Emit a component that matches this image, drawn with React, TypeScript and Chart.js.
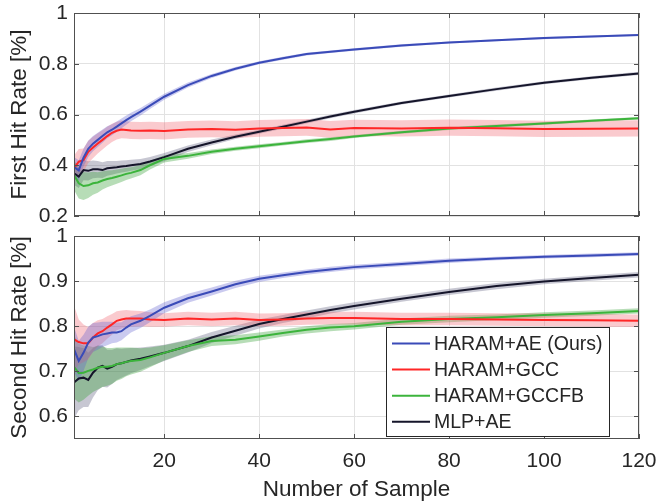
import React, { useEffect, useRef } from 'react';
import { Chart, registerables } from 'chart.js';

Chart.register(...registerables);

// ---- data ----
const sampleIndex = [1, 2, 3, 4, 5, 6, 7, 8, 9, 10, 11, 12, 13, 15, 17, 20, 25, 30, 35, 40, 45, 50, 55, 60, 70, 80, 90, 100, 110, 120];

const seriesNames = ['HARAM+AE (Ours)', 'HARAM+GCC', 'HARAM+GCCFB', 'MLP+AE'];

const xTickValues = [20, 40, 60, 80, 100, 120];
const firstTickValues = [0.2, 0.4, 0.6, 0.8, 1];
const secondTickValues = [0.6, 0.7, 0.8, 0.9, 1];

// First hit rate (mean)
const firstAE = [0.393, 0.38, 0.43, 0.465, 0.485, 0.5, 0.515, 0.53, 0.54, 0.552, 0.565, 0.578, 0.59, 0.611, 0.635, 0.67, 0.716, 0.752, 0.78, 0.804, 0.822, 0.838, 0.847, 0.856, 0.872, 0.884, 0.893, 0.901, 0.907, 0.913];
const firstGCC = [0.388, 0.414, 0.42, 0.453, 0.47, 0.486, 0.5, 0.515, 0.528, 0.536, 0.541, 0.539, 0.537, 0.536, 0.537, 0.535, 0.541, 0.543, 0.54, 0.545, 0.547, 0.549, 0.541, 0.547, 0.545, 0.548, 0.546, 0.543, 0.544, 0.545];
const firstGCCFB = [0.362, 0.329, 0.318, 0.321, 0.329, 0.332, 0.34, 0.346, 0.35, 0.355, 0.36, 0.366, 0.37, 0.381, 0.4, 0.425, 0.437, 0.453, 0.465, 0.475, 0.485, 0.495, 0.503, 0.513, 0.53, 0.545, 0.555, 0.565, 0.575, 0.585];
const firstMLP = [0.368, 0.355, 0.381, 0.378, 0.384, 0.384, 0.381, 0.388, 0.39, 0.392, 0.395, 0.397, 0.4, 0.405, 0.415, 0.432, 0.465, 0.49, 0.512, 0.532, 0.552, 0.572, 0.592, 0.611, 0.645, 0.673, 0.7, 0.725, 0.745, 0.762];

// First hit rate (band half-width)
const firstAEBand = [0.04, 0.04, 0.035, 0.032, 0.03, 0.028, 0.026, 0.024, 0.022, 0.02, 0.019, 0.018, 0.017, 0.015, 0.013, 0.012, 0.01, 0.008, 0.007, 0.006, 0.006, 0.005, 0.005, 0.005, 0.005, 0.004, 0.004, 0.004, 0.004, 0.004];
const firstGCCBand = [0.05, 0.05, 0.046, 0.044, 0.042, 0.04, 0.038, 0.037, 0.036, 0.035, 0.035, 0.034, 0.034, 0.034, 0.034, 0.034, 0.033, 0.033, 0.033, 0.033, 0.033, 0.033, 0.033, 0.032, 0.032, 0.032, 0.032, 0.032, 0.032, 0.032];
const firstGCCFBBand = [0.06, 0.06, 0.055, 0.05, 0.045, 0.04, 0.036, 0.033, 0.03, 0.028, 0.026, 0.024, 0.022, 0.02, 0.017, 0.014, 0.011, 0.009, 0.008, 0.008, 0.007, 0.007, 0.007, 0.006, 0.006, 0.006, 0.006, 0.005, 0.005, 0.005];
const firstMLPBand = [0.045, 0.045, 0.04, 0.038, 0.035, 0.033, 0.031, 0.029, 0.027, 0.025, 0.024, 0.023, 0.022, 0.02, 0.018, 0.016, 0.013, 0.011, 0.009, 0.008, 0.008, 0.007, 0.007, 0.007, 0.006, 0.006, 0.006, 0.006, 0.006, 0.006];

// Second hit rate (mean)
const secondAE = [0.749, 0.723, 0.741, 0.764, 0.775, 0.778, 0.782, 0.784, 0.786, 0.786, 0.789, 0.797, 0.804, 0.812, 0.823, 0.841, 0.862, 0.877, 0.893, 0.905, 0.913, 0.92, 0.926, 0.931, 0.938, 0.945, 0.95, 0.954, 0.957, 0.96];
const secondGCC = [0.771, 0.765, 0.762, 0.762, 0.775, 0.784, 0.789, 0.797, 0.804, 0.812, 0.815, 0.817, 0.817, 0.817, 0.815, 0.814, 0.817, 0.815, 0.817, 0.814, 0.815, 0.817, 0.818, 0.818, 0.816, 0.816, 0.815, 0.814, 0.813, 0.812];
const secondGCCFB = [0.71, 0.696, 0.697, 0.701, 0.704, 0.708, 0.71, 0.71, 0.712, 0.716, 0.718, 0.721, 0.723, 0.725, 0.731, 0.741, 0.756, 0.767, 0.77, 0.777, 0.785, 0.792, 0.797, 0.8, 0.81, 0.816, 0.82, 0.825, 0.829, 0.834];
const secondMLP = [0.675, 0.684, 0.686, 0.681, 0.697, 0.708, 0.712, 0.706, 0.71, 0.716, 0.718, 0.721, 0.724, 0.728, 0.733, 0.741, 0.756, 0.775, 0.79, 0.805, 0.816, 0.826, 0.836, 0.845, 0.861, 0.876, 0.889, 0.899, 0.907, 0.914];

// Second hit rate (band half-width)
const secondAEBand = [0.05, 0.045, 0.04, 0.035, 0.032, 0.03, 0.028, 0.026, 0.024, 0.022, 0.02, 0.019, 0.018, 0.016, 0.014, 0.012, 0.01, 0.009, 0.008, 0.007, 0.006, 0.006, 0.006, 0.005, 0.005, 0.005, 0.004, 0.004, 0.004, 0.004];
const secondGCCBand = [0.075, 0.05, 0.042, 0.036, 0.032, 0.029, 0.027, 0.025, 0.023, 0.021, 0.02, 0.019, 0.018, 0.017, 0.016, 0.015, 0.015, 0.015, 0.015, 0.014, 0.014, 0.014, 0.014, 0.014, 0.014, 0.014, 0.014, 0.014, 0.014, 0.014];
const secondGCCFBBand = [0.07, 0.065, 0.06, 0.055, 0.05, 0.048, 0.045, 0.042, 0.04, 0.037, 0.035, 0.032, 0.03, 0.026, 0.022, 0.017, 0.013, 0.011, 0.01, 0.009, 0.008, 0.008, 0.008, 0.007, 0.007, 0.007, 0.006, 0.006, 0.006, 0.006];
const secondMLPBand = [0.08, 0.07, 0.065, 0.06, 0.055, 0.05, 0.046, 0.042, 0.038, 0.035, 0.032, 0.03, 0.028, 0.025, 0.022, 0.018, 0.014, 0.012, 0.011, 0.01, 0.009, 0.009, 0.008, 0.008, 0.007, 0.007, 0.007, 0.006, 0.006, 0.006];

// ---- styles ----
const lineColors = ['#3a4bb8', '#ff2626', '#3cb43c', '#15152a'];
const bandColors = ['rgba(95,95,205,0.33)', 'rgba(240,100,110,0.34)', 'rgba(55,160,55,0.36)', 'rgba(80,80,115,0.32)'];
const FONT = "'Liberation Sans', Arial, Helvetica, sans-serif";
const TEXT = '#262626';
const GRID = '#e2e2e2';
const FRAME = '#505050';

function makeDatasets(means: number[][], bands: number[][]) {
  const ds: any[] = [];
  means.forEach((m, i) => {
    ds.push({
      data: sampleIndex.map((x, k) => ({ x, y: m[k] - bands[i][k] })),
      borderColor: 'rgba(0,0,0,0)', borderWidth: 0, pointRadius: 0, fill: false, order: 2,
    });
    ds.push({
      data: sampleIndex.map((x, k) => ({ x, y: m[k] + bands[i][k] })),
      borderColor: 'rgba(0,0,0,0)', borderWidth: 0, pointRadius: 0, fill: '-1', backgroundColor: bandColors[i], order: 2,
    });
  });
  means.forEach((m, i) => {
    ds.push({
      data: sampleIndex.map((x, k) => ({ x, y: m[k] })),
      borderColor: lineColors[i], borderWidth: 2, pointRadius: 0, fill: false, tension: 0, order: 0,
    });
  });
  return ds;
}

const framePlugin = {
  id: 'frame',
  afterDatasetsDraw(chart: any) {
    const { ctx, chartArea: ca, scales } = chart;
    ctx.save();
    ctx.strokeStyle = FRAME;
    ctx.lineWidth = 1;
    ctx.strokeRect(ca.left + 0.5, ca.top + 0.5, ca.right - ca.left - 1, ca.bottom - ca.top - 1);
    const tl = 5;
    ctx.beginPath();
    scales.x.ticks.forEach((t: any) => {
      const px = Math.round(scales.x.getPixelForValue(t.value)) + 0.5;
      ctx.moveTo(px, ca.top); ctx.lineTo(px, ca.top + tl);
      ctx.moveTo(px, ca.bottom); ctx.lineTo(px, ca.bottom - tl);
    });
    scales.y.ticks.forEach((t: any) => {
      const py = Math.round(scales.y.getPixelForValue(t.value)) + 0.5;
      ctx.moveTo(ca.left, py); ctx.lineTo(ca.left + tl, py);
      ctx.moveTo(ca.right, py); ctx.lineTo(ca.right - tl, py);
    });
    ctx.stroke();
    ctx.restore();
  },
};

const legendPlugin = {
  id: 'boxLegend',
  afterDraw(chart: any) {
    const { ctx, chartArea: ca } = chart;
    const w = 223, h = 109;
    const left = ca.right - 30 - w;
    const top = ca.bottom - 3 - h;
    ctx.save();
    ctx.fillStyle = '#ffffff';
    ctx.fillRect(left, top, w, h);
    ctx.strokeStyle = '#262626';
    ctx.lineWidth = 1;
    ctx.strokeRect(Math.round(left) + 0.5, Math.round(top) + 0.5, w, h);
    ctx.font = `19.5px ${FONT}`;
    ctx.textBaseline = 'middle';
    ctx.textAlign = 'left';
    seriesNames.forEach((name, i) => {
      const y = top + 16.5 + i * 26.1;
      ctx.strokeStyle = lineColors[i];
      ctx.lineWidth = 2;
      ctx.beginPath();
      ctx.moveTo(left + 6, y);
      ctx.lineTo(left + 44, y);
      ctx.stroke();
      ctx.fillStyle = TEXT;
      ctx.fillText(name, left + 48, y + 1);
    });
    ctx.restore();
  },
};

function xScale(showLabels: boolean) {
  return {
    type: 'linear',
    min: 1,
    max: 120,
    afterBuildTicks: (s: any) => { s.ticks = xTickValues.map((v) => ({ value: v })); },
    grid: { color: GRID, drawTicks: false, lineWidth: 1 },
    border: { display: false },
    ticks: {
      display: showLabels,
      color: TEXT,
      font: { family: FONT, size: 21 },
      padding: 10,
      maxRotation: 0,
      callback: (v: any) => String(v),
    },
    title: showLabels
      ? { display: true, text: 'Number of Sample', color: TEXT, font: { family: FONT, size: 22.5 }, padding: { top: 0, bottom: 0 } }
      : { display: false },
    afterFit: (s: any) => {
      s.height = showLabels ? 64 : 0;
      s.paddingLeft = 0;
      s.paddingRight = 0;
    },
  };
}

function yScale(min: number, max: number, tickValues: number[], title: string) {
  return {
    type: 'linear',
    min,
    max,
    afterBuildTicks: (s: any) => { s.ticks = tickValues.map((v) => ({ value: v })); },
    grid: { color: GRID, drawTicks: false, lineWidth: 1 },
    border: { display: false },
    ticks: {
      color: TEXT,
      font: { family: FONT, size: 21 },
      padding: 6,
      callback: (v: any) => String(v),
    },
    title: { display: true, text: title, color: TEXT, font: { family: FONT, size: 22.5 }, padding: { top: 6, bottom: 0 } },
    afterFit: (s: any) => {
      s.width = 74;
      s.paddingTop = 0;
      s.paddingBottom = 0;
    },
  };
}

export default function App() {
  const topRef = useRef<HTMLCanvasElement | null>(null);
  const bottomRef = useRef<HTMLCanvasElement | null>(null);

  useEffect(() => {
    const top = new Chart(topRef.current as HTMLCanvasElement, {
      type: 'line',
      data: {
        datasets: makeDatasets(
          [firstAE, firstGCC, firstGCCFB, firstMLP],
          [firstAEBand, firstGCCBand, firstGCCFBBand, firstMLPBand]
        ),
      },
      options: {
        responsive: false,
        animation: false,
        layout: { padding: { left: 0, right: 17, top: 13, bottom: 10 } },
        plugins: { legend: { display: false }, tooltip: { enabled: false } },
        scales: {
          x: xScale(false) as any,
          y: yScale(0.2, 1, firstTickValues, 'First Hit Rate [%]') as any,
        },
      },
      plugins: [framePlugin],
    });
    const bottom = new Chart(bottomRef.current as HTMLCanvasElement, {
      type: 'line',
      data: {
        datasets: makeDatasets(
          [secondAE, secondGCC, secondGCCFB, secondMLP],
          [secondAEBand, secondGCCBand, secondGCCFBBand, secondMLPBand]
        ),
      },
      options: {
        responsive: false,
        animation: false,
        layout: { padding: { left: 0, right: 17, top: 10, bottom: 0 } },
        plugins: { legend: { display: false }, tooltip: { enabled: false } },
        scales: {
          x: xScale(true) as any,
          y: yScale(0.55, 1, secondTickValues, 'Second Hit Rate [%]') as any,
        },
      },
      plugins: [framePlugin, legendPlugin],
    });
    return () => {
      top.destroy();
      bottom.destroy();
    };
  }, []);

  return (
    <div style={{ position: 'fixed', left: 0, top: 0, width: 656, height: 503, background: '#ffffff' }}>
      <canvas ref={topRef} width={656} height={226} style={{ position: 'absolute', left: 0, top: 0, display: 'block' }} />
      <canvas ref={bottomRef} width={656} height={277} style={{ position: 'absolute', left: 0, top: 226, display: 'block' }} />
    </div>
  );
}
